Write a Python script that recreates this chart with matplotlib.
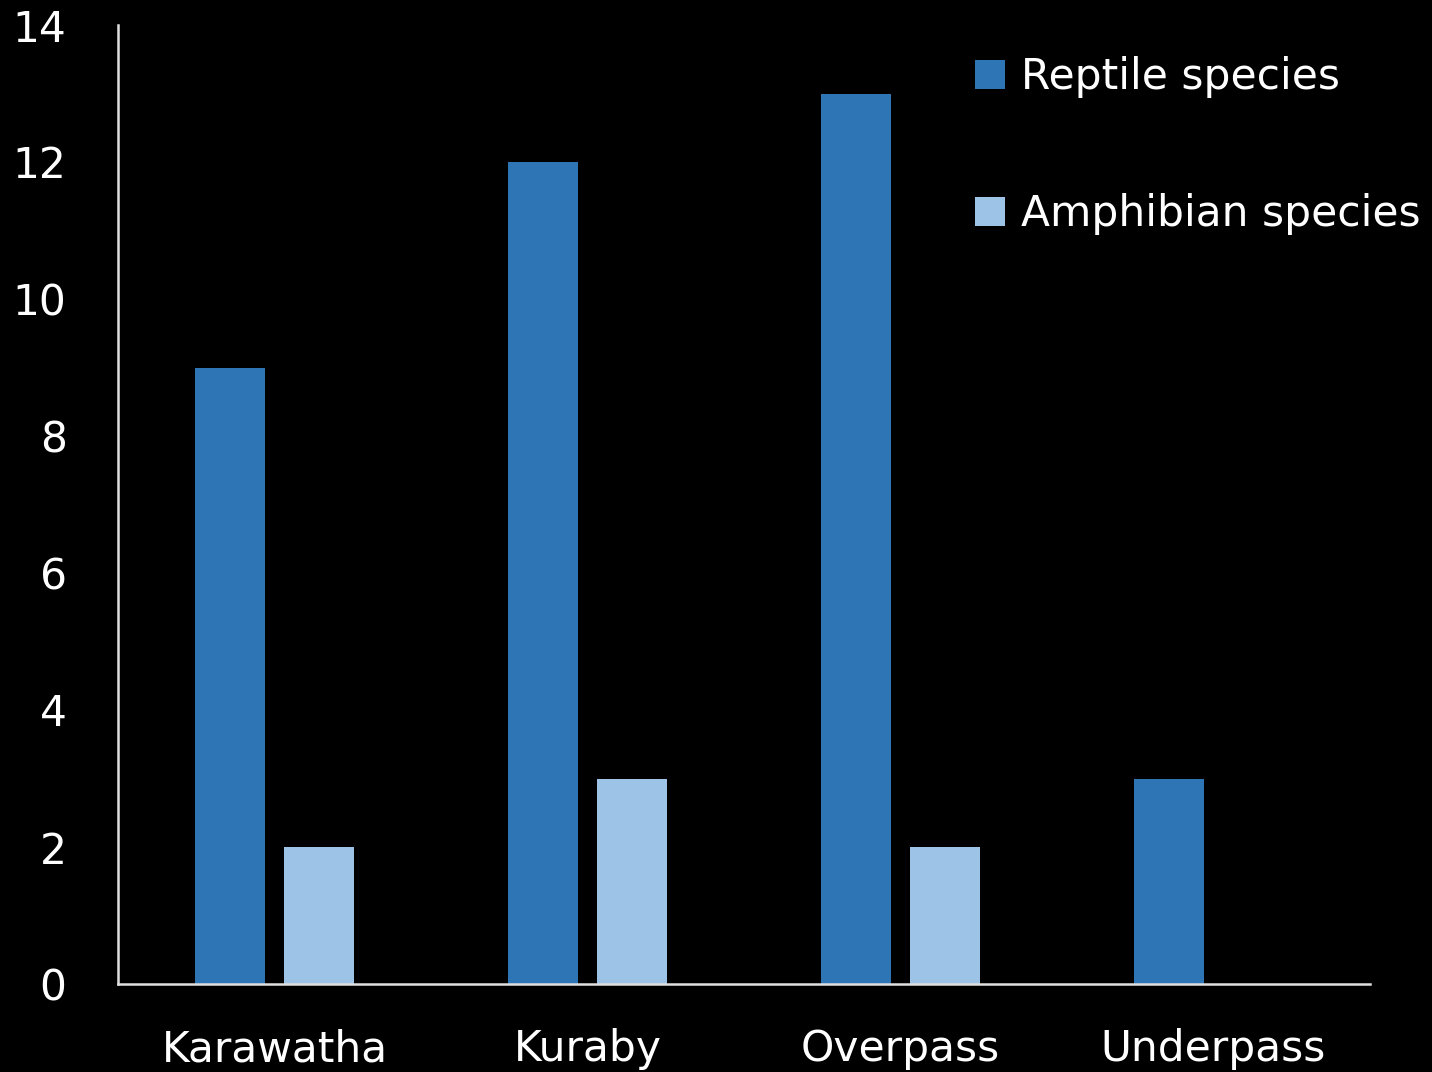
import matplotlib
matplotlib.use("Agg")
import matplotlib.pyplot as plt
import numpy as np

categories = ["Karawatha", "Kuraby", "Overpass", "Underpass"]
reptile = [9, 12, 13, 3]
amphibian = [2, 3, 2, 0]
series_labels = ["Reptile species", "Amphibian species"]
yticks = [0, 2, 4, 6, 8, 10, 12, 14]

plt.rcParams['font.family'] = ['DejaVu Sans']

fig = plt.figure(figsize=(14.32, 10.72), dpi=100, facecolor='black')
ax = fig.add_axes([118/1432, 88/1072, (1370-118)/1432, (984-25)/1072], facecolor='black')

x = np.arange(len(categories))
w = 0.224
off = 0.143
ax.bar(x - off, reptile, width=w, color='#2E75B6', label=series_labels[0])
ax.bar(x + off, amphibian, width=w, color='#9DC3E6', label=series_labels[1])

ax.set_xlim(-0.5, len(categories) - 0.5)
ax.set_ylim(0, 14)
ax.set_yticks(yticks)
ax.set_yticklabels([str(v) for v in yticks])
ax.set_xticks(x)
ax.set_xticklabels(categories)
ax.tick_params(axis='both', length=0, colors='white', labelsize=30.5)
ax.tick_params(axis='y', pad=37)
ax.tick_params(axis='x', pad=32)
for s in ['top', 'right']:
    ax.spines[s].set_visible(False)
for s in ['left', 'bottom']:
    ax.spines[s].set_color('#e0e0e0')
    ax.spines[s].set_linewidth(1.8)

leg = ax.legend(loc='upper left', bbox_to_anchor=(975/1432, (1072-56)/1072), bbox_transform=fig.transFigure,
                frameon=False, fontsize=30.5, labelcolor='white', handlelength=0.7, handleheight=0.68,
                handletextpad=0.38, labelspacing=2.25, borderaxespad=0, borderpad=0)

fig.savefig("out.png", dpi=100, facecolor='black')
